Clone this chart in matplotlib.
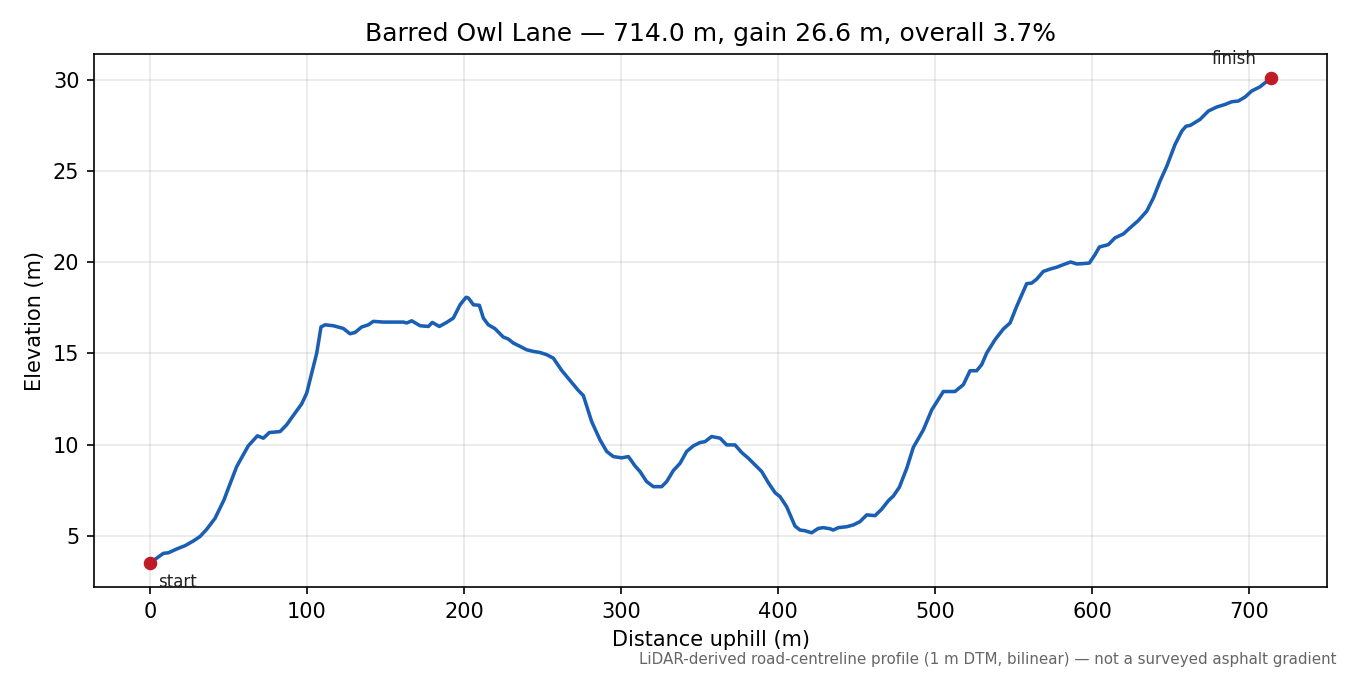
import matplotlib
matplotlib.use("Agg")
import matplotlib.pyplot as plt

### PROFILE DATA
road_name = "Barred Owl Lane"
footnote = "LiDAR-derived road-centreline profile (1 m DTM, bilinear) \u2014 not a surveyed asphalt gradient"

dist_m = [0, 8.5, 11.7, 17, 22.3, 27.6, 31.8, 36.1, 41.4, 47.1, 49.9, 55.2, 62.6, 68.4, 72.2,
          76, 82.8, 87, 91.3, 96.6, 99.8, 106.2, 108.9, 111.5, 116.8, 123.1, 127.4, 130.6, 134.8,
          139.1, 142.2, 148.6, 155, 161.4, 163.5, 166.7, 172, 177.3, 179.8, 184.3, 188.9, 193.2,
          197.5, 201.3, 202.8, 206, 209.8, 212.3, 215.5, 219.7, 225, 228.2, 231.4, 235.4, 239.9,
          244.2, 248.4, 252.7, 256.9, 262.2, 267.5, 272.8, 276, 281.3, 286.6, 290.9, 295.1, 300.4,
          304.7, 308.9, 312.1, 316.3, 320.6, 325.9, 329.1, 333.3, 337.6, 341.8, 346.1, 350.3, 353.5,
          357.7, 363.1, 367.3, 372.6, 376.9, 381.1, 385.4, 389.6, 393.8, 398.1, 401.3, 405.5, 408.7,
          410.8, 414, 417.2, 421.4, 425.7, 428.9, 433.1, 435.2, 438.4, 443.7, 448, 452.2, 456.5,
          461.8, 466, 470.3, 473.5, 477.3, 482, 486.2, 492.6, 497.9, 505.3, 512.7, 518, 522.3,
          526.5, 529.7, 532.9, 538.2, 543.5, 547.8, 552, 558.4, 561.6, 564.8, 569, 573.3, 577.5,
          581.7, 586.4, 590.2, 594.5, 598.3, 601.9, 604.7, 610.4, 614.6, 620, 624.2, 629.5, 634.8,
          639.1, 643.3, 647.6, 652.9, 657.2, 659.9, 662.5, 668.8, 674.1, 679.4, 684.7, 689, 693.2,
          697.5, 701.7, 707, 710.2, 714.0]

elev_m = [3.5, 4.03, 4.06, 4.27, 4.45, 4.71, 4.95, 5.35, 5.95, 6.96, 7.6, 8.79, 9.93, 10.48, 10.35,
          10.66, 10.71, 11.08, 11.6, 12.23, 12.82, 15.02, 16.45, 16.57, 16.52, 16.37, 16.08, 16.15, 16.45,
          16.57, 16.76, 16.72, 16.72, 16.72, 16.67, 16.79, 16.52, 16.48, 16.7, 16.48, 16.7, 16.94,
          17.67, 18.08, 18.04, 17.67, 17.64, 16.94, 16.57, 16.36, 15.9, 15.79, 15.57, 15.4, 15.2,
          15.11, 15.05, 14.93, 14.74, 14.07, 13.52, 12.97, 12.69, 11.26, 10.26, 9.62, 9.34, 9.27,
          9.34, 8.83, 8.52, 7.97, 7.69, 7.69, 7.97, 8.57, 8.97, 9.62, 9.93, 10.11, 10.16,
          10.44, 10.35, 9.98, 9.98, 9.56, 9.25, 8.88, 8.52, 7.91, 7.36, 7.14, 6.59, 5.95,
          5.53, 5.31, 5.27, 5.16, 5.4, 5.44, 5.38, 5.31, 5.44, 5.49, 5.59, 5.77, 6.14,
          6.1, 6.45, 6.92, 7.18, 7.66, 8.7, 9.85, 10.81, 11.9, 12.91, 12.91, 13.28, 14.05,
          14.05, 14.38, 15.02, 15.75, 16.34, 16.67, 17.58, 18.83, 18.86, 19.08, 19.5, 19.63, 19.73,
          19.87, 20.02, 19.91, 19.93, 19.96, 20.42, 20.84, 20.97, 21.34, 21.56, 21.89, 22.29, 22.8,
          23.53, 24.45, 25.27, 26.47, 27.2, 27.47, 27.51, 27.84, 28.3, 28.52, 28.66, 28.81, 28.85,
          29.07, 29.4, 29.63, 29.85, 30.1]

assert len(dist_m) == len(elev_m)

# --- summary numbers for the title ---
length = dist_m[-1]
gain = elev_m[-1] - elev_m[0]
overall = gain / length * 100

fig, ax = plt.subplots(figsize=(9, 4.5), dpi=150)
fig.subplots_adjust(left=0.0696, right=0.983, top=0.92, bottom=0.13)

ax.plot(dist_m, elev_m, color="#1a5fb4", linewidth=1.7)
ax.plot([dist_m[0], dist_m[-1]], [elev_m[0], elev_m[-1]], "o", color="#c01c28",
        markersize=5.5, zorder=3)

ax.annotate("start", (dist_m[0], elev_m[0]), xytext=(4, -9), textcoords="offset points",
            ha="left", va="center", fontsize=8, color="#222222")
ax.annotate("finish", (dist_m[-1], elev_m[-1]), xytext=(-7, 9), textcoords="offset points",
            ha="right", va="center", fontsize=8, color="#222222")

ax.set_title(f"{road_name} \u2014 {length:.1f} m, gain {gain:.1f} m, overall {overall:.1f}%",
             fontsize=12)
ax.set_xlabel("Distance uphill (m)", fontsize=10)
ax.set_ylabel("Elevation (m)", fontsize=10)
ax.tick_params(labelsize=10)
ax.grid(True, alpha=0.3)

fig.text(0.99, 0.012, footnote, ha="right", va="bottom", fontsize=7.25, color="#666666")

fig.savefig("out.png", dpi=150)
plt.close(fig)
